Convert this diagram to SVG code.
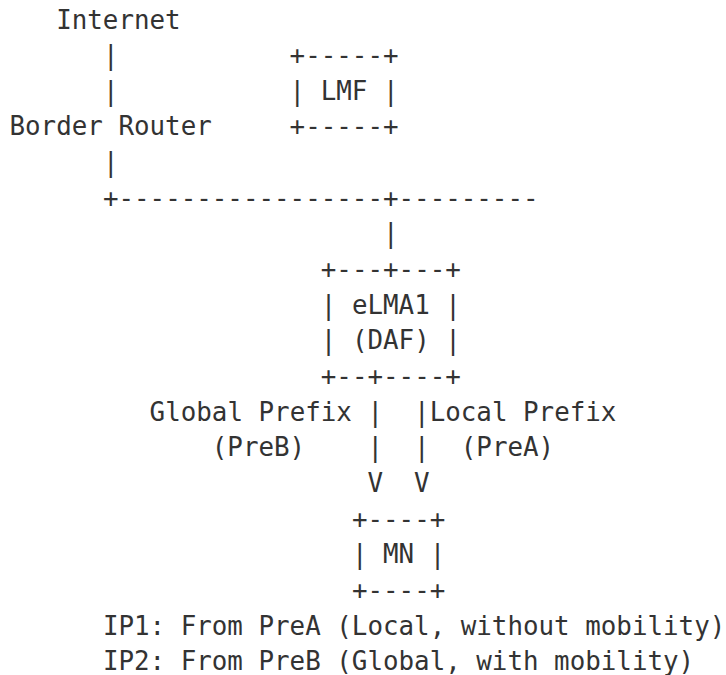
<svg xmlns="http://www.w3.org/2000/svg" width="726" height="675" viewBox="0 0 726 675">
<style>
text{font-family:"DejaVu Sans Mono","Liberation Mono",monospace;font-size:25.85px;fill:#333;white-space:pre}
</style>
<rect width="726" height="675" fill="#fff"/>
<g id="internet"><text x="56.2" y="28.5">Internet</text></g>
<g id="border-router"><text x="9.5" y="135.45">Border Router</text></g>
<g id="lmf">
<text x="289.6" y="64.15">+-----+</text>
<text x="289.6" y="99.8">| LMF |</text>
<text x="289.6" y="135.45">+-----+</text>
</g>
<g id="elma1">
<text x="320.8" y="278.05">+---+---+</text>
<text x="320.8" y="313.7">| eLMA1 |</text>
<text x="320.8" y="349.35">| (DAF) |</text>
<text x="320.8" y="385">+--+----+</text>
</g>
<g id="mn">
<text x="351.9" y="527.6">+----+</text>
<text x="351.9" y="563.25">| MN |</text>
<text x="351.9" y="598.9">+----+</text>
</g>
<g id="connectors">
<text x="102.9" y="64.15">|</text>
<text x="102.9" y="99.8">|</text>
<text x="102.9" y="171.1">|</text>
<text x="102.9" y="206.75">+-----------------+---------</text>
<text x="383" y="242.4">|</text>
<text x="367.5" y="420.65">|</text>
<text x="414.1" y="420.65">|</text>
<text x="367.5" y="456.3">|</text>
<text x="414.1" y="456.3">|</text>
<text x="367.5" y="491.95">V</text>
<text x="414.1" y="491.95">V</text>
</g>
<g id="labels">
<text x="149.6" y="420.65">Global Prefix</text>
<text x="429.7" y="420.65">Local Prefix</text>
<text x="211.8" y="456.3">(PreB)</text>
<text x="460.8" y="456.3">(PreA)</text>
<text x="102.9" y="634.55">IP1: From PreA (Local, without mobility)</text>
<text x="102.9" y="670.2">IP2: From PreB (Global, with mobility)</text>
</g>
</svg>
